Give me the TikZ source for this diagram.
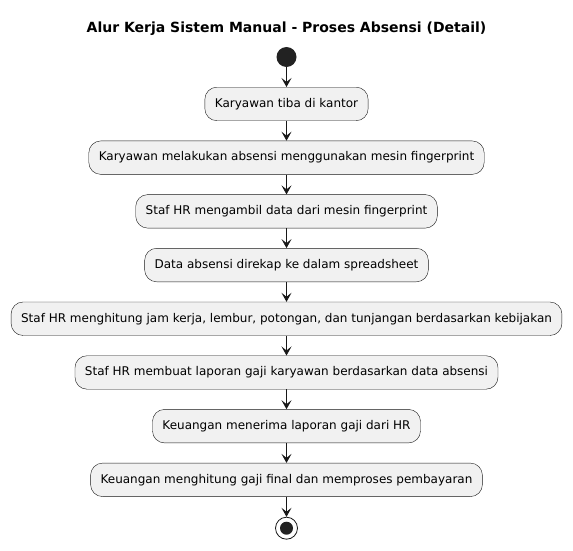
\documentclass[tikz,border=0pt]{standalone}
\usepackage{fontspec}
\setmainfont{DejaVu Sans}
\usetikzlibrary{positioning,arrows.meta}

\definecolor{actfill}{HTML}{F1F1F1}
\definecolor{actline}{HTML}{181818}
\definecolor{dotcol}{HTML}{222222}

\tikzset{
	action/.style={rectangle, rounded corners=12pt, draw=actline, fill=actfill,
		font=\fontsize{12}{14}\selectfont, minimum height=33.5pt, inner xsep=10pt},
	startdot/.style={circle, fill=dotcol, inner sep=0pt, minimum size=20pt},
	stopdot/.style={circle, draw=actline, fill=white, line width=0.8pt, inner sep=0pt, minimum size=22pt},
	flow/.style={-{Stealth[length=9pt,width=10pt,inset=4pt]}, actline, line width=0.8pt},
}

\begin{document}
\begin{tikzpicture}[node distance=19.8pt]

	\useasboundingbox (0pt,0pt) rectangle (573pt,-551pt);

	% title
	\node[font=\fontsize{14}{16}\selectfont\bfseries] (title) at (286.5pt,-29pt) {Alur Kerja Sistem Manual - Proses Absensi (Detail)};

	\node[startdot] (start) at (286.5pt,-57pt) {};

	% steps
	\node[action, below=of start] (tiba) {Karyawan tiba di kantor};
	\node[action, below=of tiba] (absen) {Karyawan melakukan absensi menggunakan mesin fingerprint};
	\node[action, below=of absen] (ambil) {Staf HR mengambil data dari mesin fingerprint};
	\node[action, below=of ambil] (rekap) {Data absensi direkap ke dalam spreadsheet};
	\node[action, below=of rekap] (hitung) {Staf HR menghitung jam kerja, lembur, potongan, dan tunjangan berdasarkan kebijakan};
	\node[action, below=of hitung] (laporan) {Staf HR membuat laporan gaji karyawan berdasarkan data absensi};
	\node[action, below=of laporan] (terima) {Keuangan menerima laporan gaji dari HR};
	\node[action, below=of terima] (final) {Keuangan menghitung gaji final dan memproses pembayaran};

	\node[stopdot, below=20pt of final] (stop) {};
	\fill[dotcol] (stop) circle (6.5pt);

	% arrows
	\foreach \a/\b in {start/tiba, tiba/absen, absen/ambil, ambil/rekap, rekap/hitung, hitung/laporan, laporan/terima, terima/final, final/stop}
		\draw[flow] (\a) -- (\b);

\end{tikzpicture}
\end{document}
